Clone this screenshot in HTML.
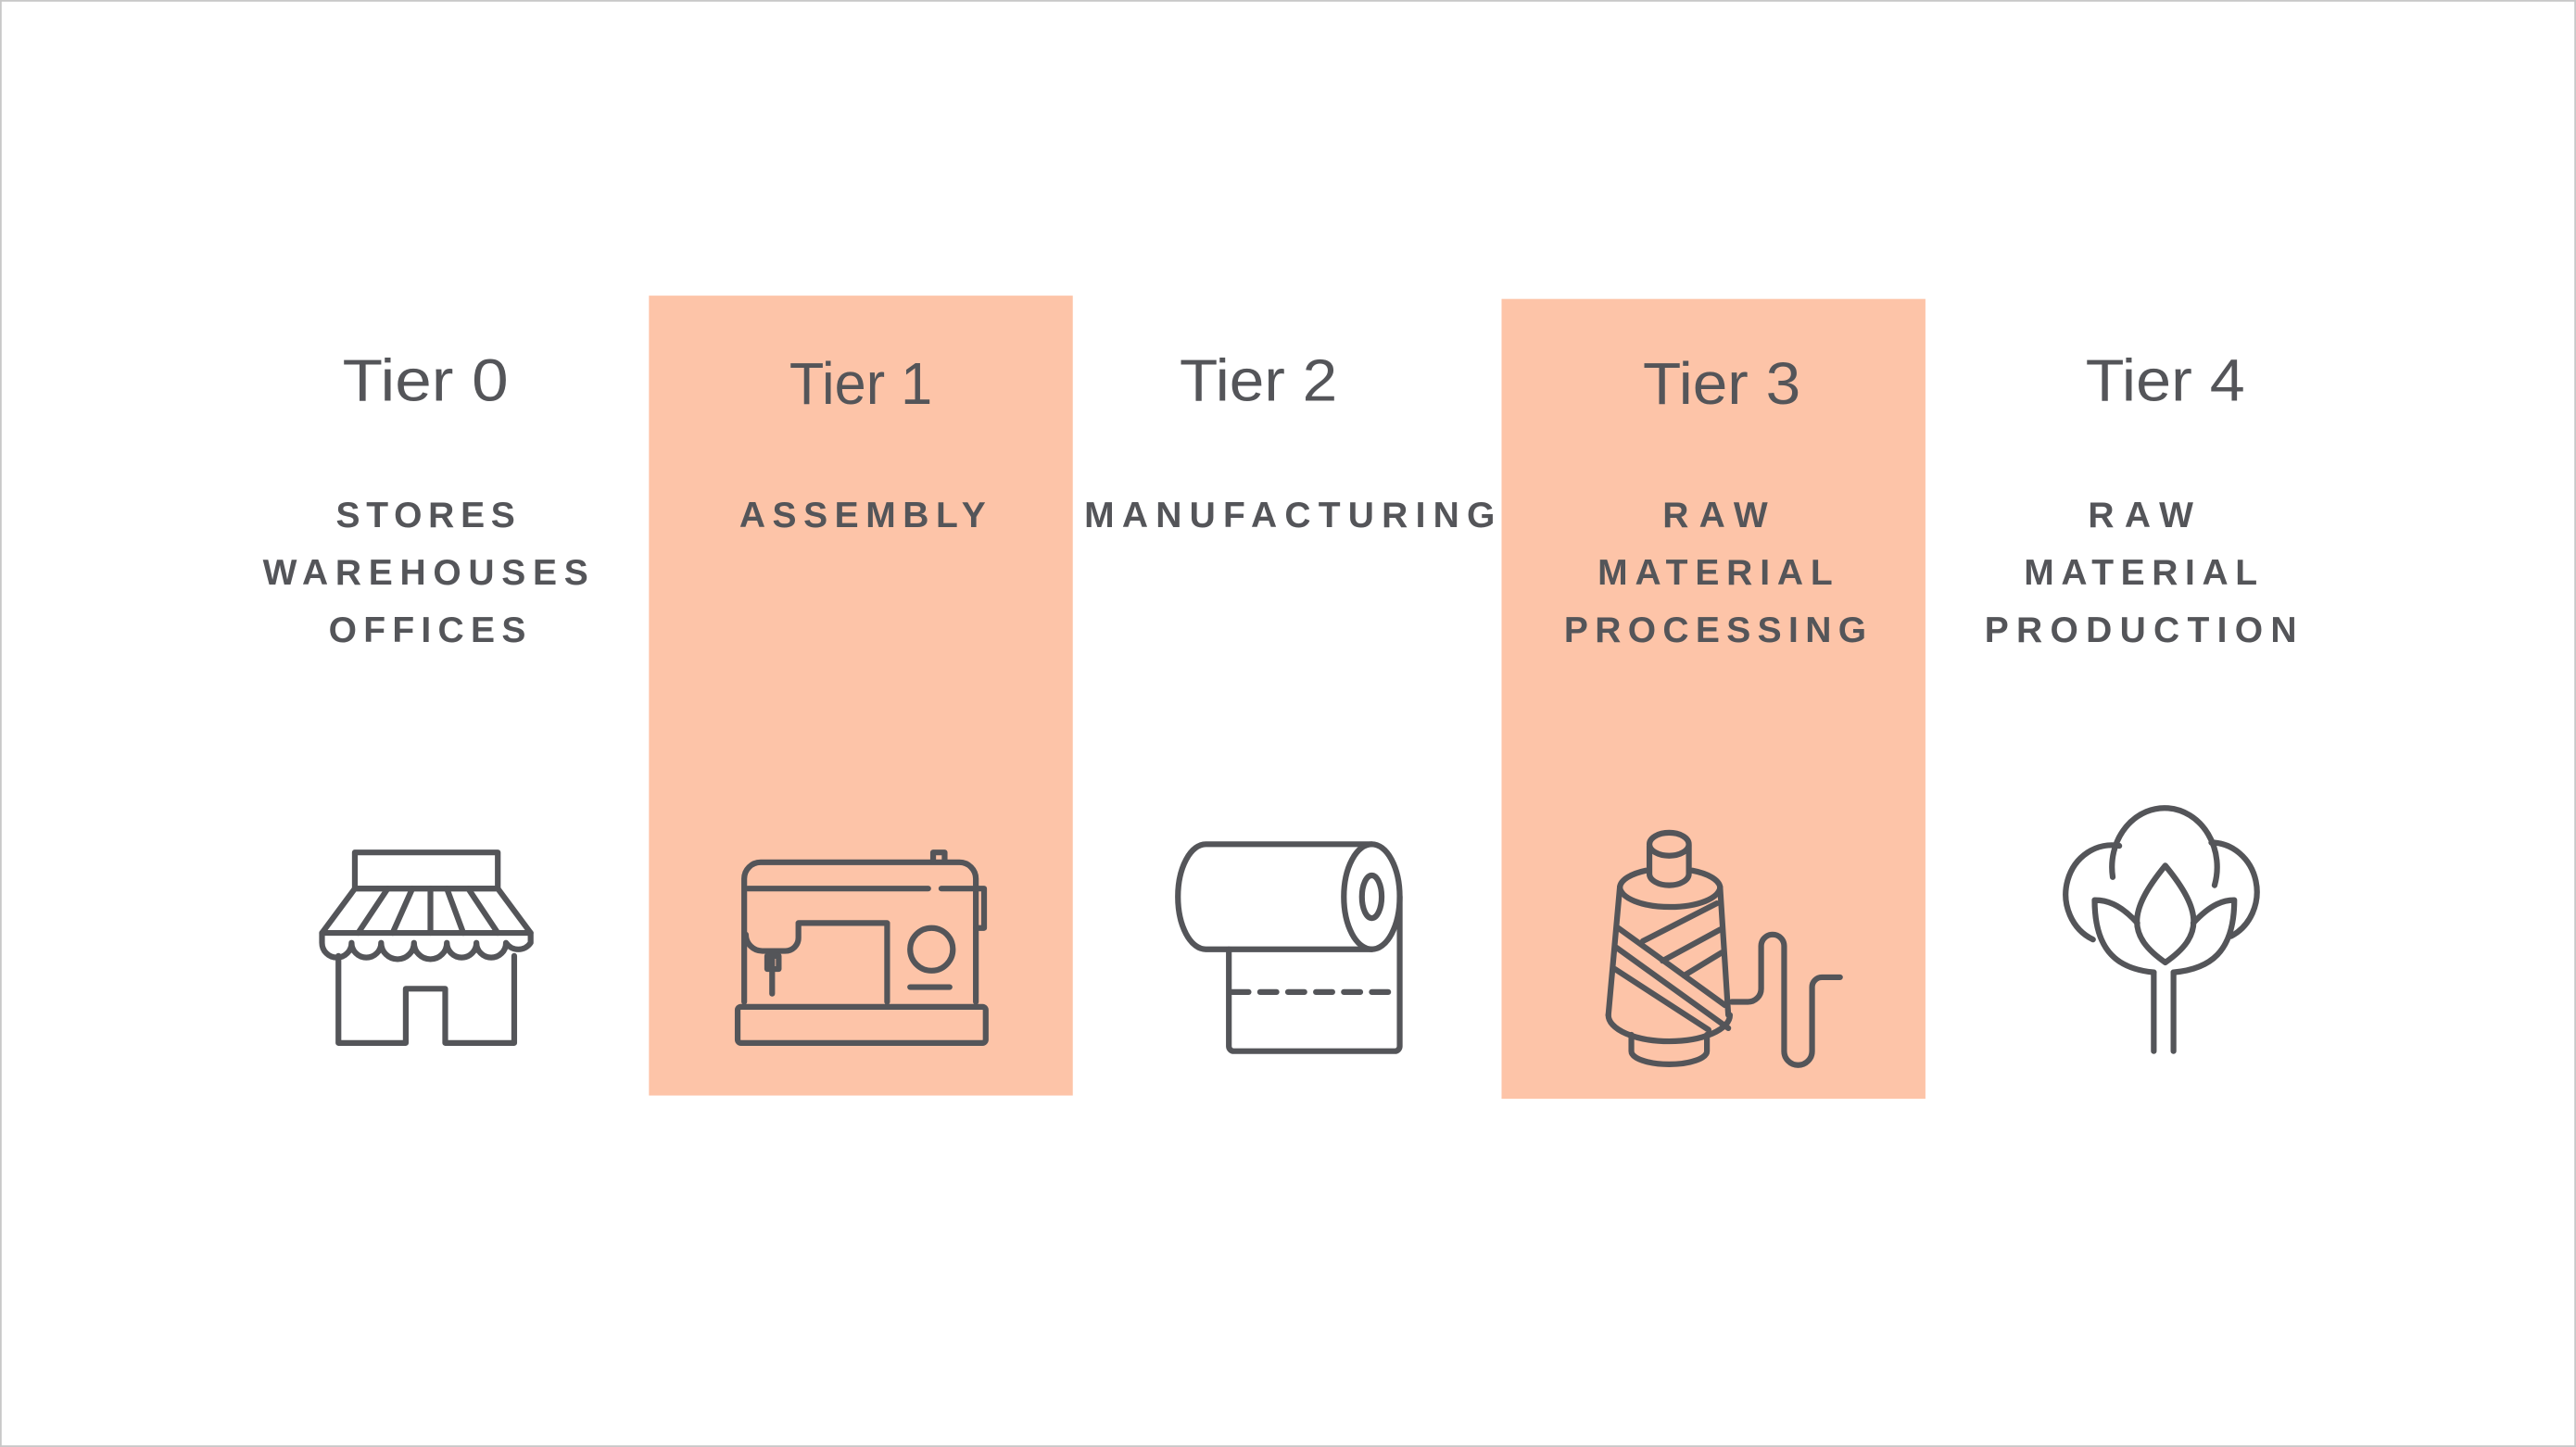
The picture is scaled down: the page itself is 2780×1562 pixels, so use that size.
<!DOCTYPE html>
<html><head><style>html,body{margin:0;padding:0;background:#fff}svg{display:block}</style></head><body>
<svg width="2780" height="1562" viewBox="0 0 1568 881" xmlns="http://www.w3.org/2000/svg">
<rect x="0.5" y="0.5" width="1567" height="880" fill="#fff" stroke="#c8c8c8" stroke-width="1"/>
<rect x="395" y="180" width="258" height="487" fill="#fdc4a8"/>
<rect x="914" y="182" width="258" height="487" fill="#fdc4a8"/>
<g fill="#545559" font-family="Liberation Sans, sans-serif" font-size="36" text-anchor="middle">
<text x="259" y="244" textLength="101" lengthAdjust="spacingAndGlyphs">Tier 0</text>
<text x="524" y="246" textLength="87" lengthAdjust="spacingAndGlyphs">Tier 1</text>
<text x="766" y="244" textLength="96" lengthAdjust="spacingAndGlyphs">Tier 2</text>
<text x="1048" y="246" textLength="96" lengthAdjust="spacingAndGlyphs">Tier 3</text>
<text x="1318" y="244" textLength="97" lengthAdjust="spacingAndGlyphs">Tier 4</text>
</g>
<g fill="#545559" font-family="Liberation Sans, sans-serif" font-size="22" font-weight="bold" text-anchor="middle" lengthAdjust="spacing">
<text x="259" y="321" textLength="109">STORES</text>
<text x="259" y="356" textLength="198">WAREHOUSES</text>
<text x="260" y="391" textLength="120">OFFICES</text>
<text x="525" y="321" textLength="150">ASSEMBLY</text>
<text x="785" y="321" textLength="250">MANUFACTURING</text>
<text x="1044" y="321" textLength="64">RAW</text>
<text x="1044" y="356" textLength="143">MATERIAL</text>
<text x="1044" y="391" textLength="184">PROCESSING</text>
<text x="1303" y="321" textLength="64">RAW</text>
<text x="1303" y="356" textLength="142">MATERIAL</text>
<text x="1303" y="391" textLength="190">PRODUCTION</text>
</g>
<g fill="none" stroke="#545559" stroke-width="3.5" stroke-linecap="round" stroke-linejoin="round">
<!-- store -->
<rect x="216" y="519" width="87" height="22"/>
<path d="M216 541 L196 568 L323 568 L303 541 Z"/>
<path d="M236 541 L218 568 M251 541 L239 568 M262 541 L262 568 M272 541 L282 568 M285 541 L303 568"/>
<path d="M196 568 v6 a9 9 0 0 0 18 0 a9 9 0 0 0 18 0 a9 9 0 0 0 20 0 a9 9 0 0 0 20 0 a9 9 0 0 0 18 0 a9 9 0 0 0 18 0 a9 9 0 0 0 15 0 v-6"/>
<path d="M206 582 V635 H247 V602 H271 V635 H313 V582"/>
<!-- sewing machine -->
<path d="M453 610 V535 a10 10 0 0 1 10 -10 H584 a10 10 0 0 1 10 10 V610"/>
<path d="M455 541 H565 M573 541 H594"/>
<path d="M594 541 h5 v24 h-5"/>
<path d="M454 569 a10 10 0 0 0 10 10 H478 a8 8 0 0 0 8 -8 V562 H540 V610"/>
<path d="M470 579 V605 M467 582 h7 v8 h-7z"/>
<circle cx="567" cy="578" r="13"/>
<path d="M554 601 H578"/>
<path d="M568 524 v-5 h7 v5"/>
<rect x="449" y="613" width="151" height="22" rx="2"/>
<!-- roll -->
<path d="M835 514 H734 a17 32 0 0 0 0 64 H835"/>
<ellipse cx="835" cy="546" rx="17" ry="32"/>
<ellipse cx="835" cy="546" rx="6" ry="13"/>
<path d="M748 578 V637 a3 3 0 0 0 3 3 H849 a3 3 0 0 0 3 -3 V546"/>
<path d="M750 604 H852" stroke-dasharray="10 7"/>
<!-- spool -->
<path d="M986 540 L979 618 M1047 540 L1052 618"/>
<path d="M986 540 a30 12 0 0 0 61 0 a30 12 0 0 0 -17 -10 M1002 530 a30 12 0 0 0 -16 10"/>
<path d="M1004 515 V532 a12 7 0 0 0 24 0 V515"/>
<ellipse cx="1016" cy="514" rx="12" ry="7"/>
<path d="M979 618 a37 16 0 0 0 74 0"/>
<path d="M993 630 V640 a23 8 0 0 0 46 0 V630"/>
<path d="M985 565 L1050 612 M984 577 L1052 626 M983 590 L1040 627 M1000 573 L1045 550 M1012 585 L1047 566 M1025 594 L1048 580"/>
<path d="M1054 610 H1064 a8 8 0 0 0 8 -8 V576 a7 7 0 0 1 14 0 V640 a8 8 0 0 0 17 0 V601 a6 6 0 0 1 6 -6 H1120"/>
<!-- cotton -->
<path d="M1286 534 a32 36 0 1 1 62 5"/>
<path d="M1290 515 a28 30 0 0 0 -16 57"/>
<path d="M1346 513 a28 30 0 0 1 12 57"/>
<path d="M1318 527 C1295 555 1295 570 1318 586 C1341 570 1341 555 1318 527 Z"/>
<path d="M1301 562 C1290 550 1282 548 1275 548 C1275 580 1290 590 1311 592"/>
<path d="M1335 562 C1346 550 1354 548 1360 548 C1360 580 1345 590 1323 592"/>
<path d="M1311 592 V640 M1323 592 V640"/>
</g>
</svg>
</body></html>
